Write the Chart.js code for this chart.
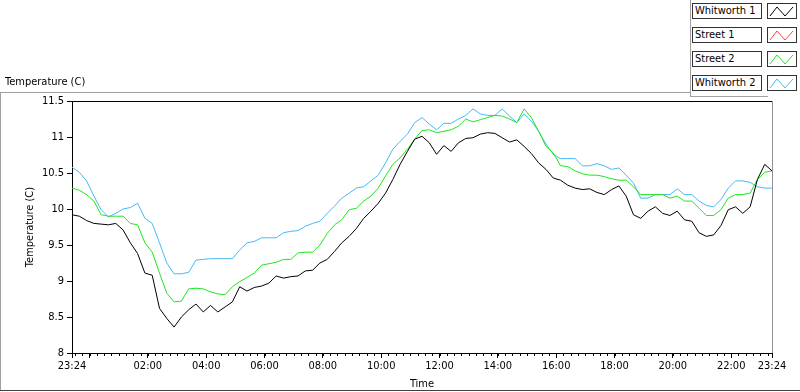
<!DOCTYPE html>
<html>
<head>
<meta charset="utf-8">
<script src="https://cdn.jsdelivr.net/npm/chart.js@4.4.1/dist/chart.umd.min.js"></script>
<style>
body { margin: 0; background: #fff; }
#wrap { position: relative; width: 800px; height: 392px; overflow: hidden;
        font-family: "DejaVu Sans Condensed", "DejaVu Sans", sans-serif; font-size: 11px; color: #000; }
#wrap canvas { position: absolute; left: 0; top: 0; }
.line { position: absolute; background: #a0a0a0; }
.title { position: absolute; left: 5px; top: 75px; line-height: 13px; }
.lbl { position: absolute; left: 692px; width: 68px; height: 14px; border: 1px solid #333;
       line-height: 14px; text-indent: 2px; background: #fff; white-space: nowrap; }
.sw { position: absolute; left: 767px; width: 28px; height: 14px; border: 1px solid #333; background: #fff; }
.sw svg { display: block; }
</style>
</head>
<body>
<div id="wrap">
  <canvas id="chart" width="800" height="392"></canvas>
  <div class="line" style="left:0;top:92px;width:690px;height:1px"></div>
  <div class="line" style="left:690px;top:0;width:1px;height:97px"></div>
  <div class="line" style="left:690px;top:96px;width:78px;height:1px"></div>
  <div class="line" style="left:0;top:92px;width:1px;height:298px"></div>
  <div class="line" style="left:0;top:390px;width:800px;height:1px;background:#404040"></div>
  <div class="title">Temperature (C)</div>
  <div id="legend"></div>
</div>
<script>
// sample grid: minutes after 23:24, one reading every 15 min
const stepMinutes = 15;
const startClock = 23 * 60 + 24;

const whitworth1 = [
  9.92, 9.90, 9.84, 9.80, 9.79, 9.78, 9.80, 9.71, 9.53, 9.38, 9.11, 9.08, 8.62, 8.48, 8.36, 8.50, 8.60, 8.68, 8.57, 8.66, 8.57, 8.64, 8.71, 8.92, 8.86,
  8.91, 8.93, 8.97, 9.07, 9.04, 9.06, 9.07, 9.14, 9.15, 9.25, 9.30, 9.41, 9.53, 9.62, 9.73, 9.87, 9.97, 10.08, 10.22, 10.41, 10.62, 10.80, 10.97, 11.01,
  10.92, 10.76, 10.88, 10.80, 10.92, 10.98, 10.99, 11.04, 11.06, 11.05, 10.99, 10.93, 10.96, 10.87, 10.77, 10.64, 10.55, 10.43, 10.40, 10.33, 10.29, 10.27, 10.28, 10.23,
  10.20, 10.27, 10.32, 10.18, 9.92, 9.87, 9.97, 10.03, 9.94, 9.91, 9.97, 9.85, 9.83, 9.67, 9.62, 9.64, 9.77, 9.99, 10.03, 9.94, 10.03, 10.41, 10.62, 10.53
];
const street1 = [];
const street2 = [
  10.29, 10.26, 10.20, 10.11, 9.92, 9.90, 9.90, 9.90, 9.80, 9.78, 9.53, 9.40, 9.11, 8.83, 8.71, 8.72, 8.89, 8.90, 8.89, 8.85, 8.82, 8.81, 8.92, 8.99, 9.05,
  9.11, 9.22, 9.24, 9.26, 9.30, 9.30, 9.39, 9.40, 9.40, 9.50, 9.66, 9.78, 9.85, 9.99, 10.01, 10.11, 10.18, 10.29, 10.46, 10.62, 10.71, 10.83, 10.97, 11.09,
  11.10, 11.06, 11.08, 11.10, 11.15, 11.25, 11.21, 11.24, 11.27, 11.30, 11.29, 11.25, 11.20, 11.39, 11.27, 11.08, 10.87, 10.78, 10.60, 10.59, 10.53, 10.49, 10.47, 10.47,
  10.45, 10.42, 10.40, 10.40, 10.31, 10.20, 10.20, 10.20, 10.20, 10.15, 10.18, 10.11, 10.11, 10.01, 9.91, 9.91, 9.99, 10.15, 10.20, 10.20, 10.22, 10.41, 10.51, 10.53
];
const whitworth2 = [
  10.58, 10.51, 10.39, 10.18, 9.99, 9.89, 9.94, 10.00, 10.02, 10.08, 9.87, 9.80, 9.53, 9.25, 9.10, 9.10, 9.12, 9.29, 9.30, 9.31, 9.31, 9.31, 9.31, 9.43, 9.53,
  9.55, 9.60, 9.60, 9.60, 9.67, 9.69, 9.70, 9.76, 9.80, 9.83, 9.94, 10.04, 10.15, 10.22, 10.29, 10.31, 10.39, 10.47, 10.64, 10.83, 10.94, 11.04, 11.20, 11.27,
  11.18, 11.10, 11.19, 11.19, 11.25, 11.30, 11.39, 11.32, 11.30, 11.30, 11.39, 11.29, 11.20, 11.32, 11.22, 11.08, 10.90, 10.76, 10.70, 10.70, 10.70, 10.60, 10.60, 10.63,
  10.60, 10.55, 10.57, 10.47, 10.36, 10.15, 10.15, 10.20, 10.20, 10.20, 10.28, 10.20, 10.20, 10.11, 10.05, 10.03, 10.13, 10.29, 10.39, 10.39, 10.37, 10.31, 10.29, 10.29
];

const seriesNames = ["Whitworth 1", "Street 1", "Street 2", "Whitworth 2"];
const seriesColors = ["#000000", "#ff4040", "#1ee61e", "#45b9f5"];
const majorTicks = [0, 36, 156, 276, 396, 516, 636, 756, 876, 996, 1116, 1236, 1356, 1440];
const minorStart = 6;

function clock(m) {
  const t = (startClock + m) % 1440;
  const h = Math.floor(t / 60), mm = t % 60;
  return String(h).padStart(2, "0") + ":" + String(mm).padStart(2, "0");
}
function points(values) {
  return values.map((v, i) => ({ x: i * stepMinutes, y: v }));
}

// legend boxes
const legend = document.getElementById("legend");
seriesNames.forEach((name, i) => {
  const top = 3 + i * 24;
  legend.insertAdjacentHTML("beforeend",
    `<div class="lbl" style="top:${top}px">${name}</div>` +
    `<div class="sw" style="top:${top}px"><svg width="28" height="14">` +
    `<polyline points="2,12 9,3 17,12 25,3" fill="none" stroke="${seriesColors[i]}" stroke-width="1"/></svg></div>`);
});

const frameAndTicks = {
  id: "frameAndTicks",
  afterDraw(chart) {
    const { ctx, chartArea: a, scales: { x } } = chart;
    ctx.save();
    ctx.lineWidth = 1;
    ctx.strokeStyle = "#000";
    ctx.beginPath();
    ctx.moveTo(a.left, a.top + 0.5);
    ctx.lineTo(a.right, a.top + 0.5);
    ctx.stroke();
    ctx.strokeStyle = "#909090";
    ctx.beginPath();
    ctx.moveTo(a.right + 0.5, a.top);
    ctx.lineTo(a.right + 0.5, a.bottom);
    ctx.stroke();
    ctx.strokeStyle = "#000";
    ctx.beginPath();
    for (let m = minorStart; m <= 1440; m += 15) {
      const px = Math.round(x.getPixelForValue(m)) + 0.5;
      ctx.moveTo(px, a.bottom);
      ctx.lineTo(px, a.bottom + 3);
    }
    ctx.stroke();
    ctx.restore();
  }
};

Chart.defaults.font.family = '"DejaVu Sans Condensed", "DejaVu Sans", sans-serif';
Chart.defaults.font.size = 11;
Chart.defaults.color = "#000";

const ctx = document.getElementById("chart").getContext("2d");
new Chart(ctx, {
  type: "line",
  data: {
    datasets: [
      { label: seriesNames[0], data: points(whitworth1), borderColor: seriesColors[0] },
      { label: seriesNames[1], data: points(street1), borderColor: seriesColors[1] },
      { label: seriesNames[2], data: points(street2), borderColor: seriesColors[2] },
      { label: seriesNames[3], data: points(whitworth2), borderColor: seriesColors[3] }
    ]
  },
  options: {
    responsive: false,
    animation: false,
    layout: { padding: { left: 0, top: 101, right: 28, bottom: 0 } },
    elements: {
      point: { radius: 0 },
      line: { borderWidth: 1, tension: 0 }
    },
    plugins: { legend: { display: false }, tooltip: { enabled: false } },
    scales: {
      x: {
        type: "linear",
        min: 0,
        max: 1440,
        afterBuildTicks: s => { s.ticks = majorTicks.map(v => ({ value: v })); },
        afterFit: s => { s.height = 39; },
        ticks: {
          autoSkip: false,
          maxRotation: 0,
          padding: 2,
          callback: v => (v === 36 ? "" : clock(v))
        },
        grid: { drawOnChartArea: false, tickLength: 5, color: "#000" },
        border: { color: "#000" },
        title: { display: true, text: "Time", padding: { top: 0, bottom: 1 } }
      },
      y: {
        min: 8,
        max: 11.5,
        afterFit: s => { s.width = 72; },
        ticks: { stepSize: 0.5, padding: 3, callback: v => String(Math.round(v * 10) / 10) },
        grid: { drawOnChartArea: false, tickLength: 5, color: "#000" },
        border: { color: "#000" },
        title: { display: true, text: "Temperature (C)", padding: { top: 24, bottom: 0 } }
      }
    }
  },
  plugins: [frameAndTicks]
});
</script>
</body>
</html>
